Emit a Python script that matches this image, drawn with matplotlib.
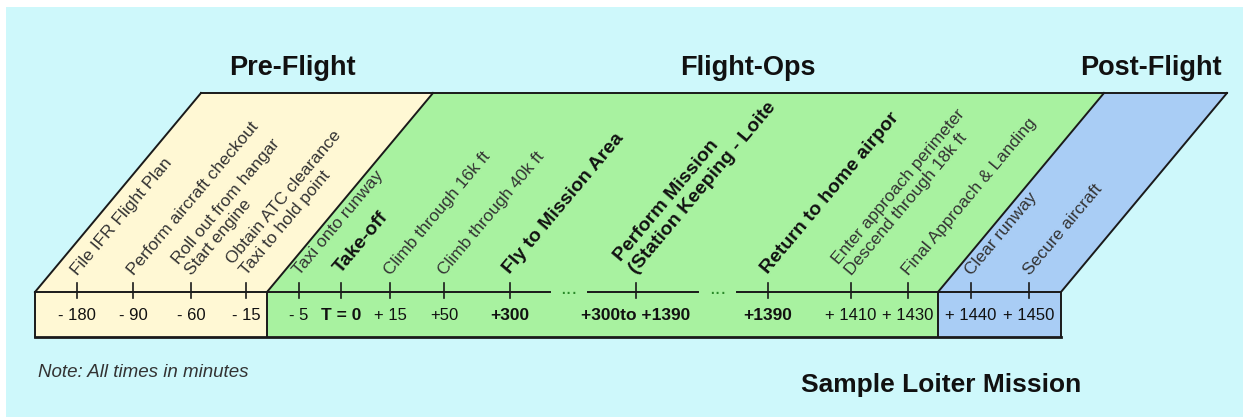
import matplotlib
matplotlib.use("Agg")
import matplotlib.pyplot as plt
from matplotlib.patches import Polygon, Rectangle

# ---------------- data ----------------
phases = ["Pre-Flight", "Flight-Ops", "Post-Flight"]
tick_labels = ["- 180", "- 90", "- 60", "- 15", "- 5", "T = 0", "+ 15", "+50",
               "+300", "+300to +1390", "+1390", "+ 1410", "+ 1430", "+ 1440", "+ 1450"]
tick_bold = [False, False, False, False, False, True, False, False,
             True, True, True, False, False, False, False]
event_labels = ["File IFR Flight Plan",
                "Perform aircraft checkout",
                "Roll out from hangar\nStart engine",
                "Obtain ATC clearance\nTaxi to hold point",
                "Taxi onto runway",
                "Take-off",
                "Climb through 16k ft",
                "Climb through 40k ft",
                "Fly to Mission Area",
                "Perform Mission\n(Station Keeping - Loite",
                "Return to home airpor",
                "Enter approach perimeter\nDescend through 18k ft",
                "Final Approach & Landing",
                "Clear runway",
                "Secure aircraft"]
title = "Sample Loiter Mission"
note = "Note: All times in minutes"

# ---------------- layout (pixel space) ----------------
W, H = 1248, 419
tick_x = [77, 133, 191, 246, 299, 341, 390, 444, 510, 636, 768, 851, 908, 971, 1029]
gap_spans = [(550, 588), (698, 737)]
box_left, box_right = 35, 1061
phase_bounds = [35, 267, 938, 1061]
y_line, y_bottom, y_top = 292, 337, 93
slant = 166
phase_colors = ["#FFF8D4", "#A8F2A0", "#A9CDF5"]
header_x = [292, 748, 1151]
panel_color = "#CEF8FB"
ink = "#1a1a1a"

fig = plt.figure(figsize=(W / 100, H / 100), dpi=100)
fig.patch.set_facecolor("white")
ax = fig.add_axes([0, 0, 1, 1])
ax.set_xlim(0, W)
ax.set_ylim(H, 0)
ax.axis("off")

ax.add_patch(Rectangle((6, 7), 1237, 410, facecolor=panel_color, edgecolor="none", zorder=0))

# phase shapes (box part + slanted parallelogram part)
for i in range(3):
    x0, x1 = phase_bounds[i], phase_bounds[i + 1]
    verts = [(x0, y_bottom), (x0, y_line), (x0 + slant, y_top),
             (x1 + slant, y_top), (x1, y_line), (x1, y_bottom)]
    ax.add_patch(Polygon(verts, closed=True, facecolor=phase_colors[i],
                         edgecolor="none", zorder=1))

lw = 1.4
for xb in phase_bounds:
    ax.plot([xb, xb + slant], [y_line, y_top], color=ink, lw=lw, zorder=3)
ax.plot([phase_bounds[0] + slant, phase_bounds[-1] + slant], [y_top, y_top], color=ink, lw=lw, zorder=3)
for xb in phase_bounds:
    ax.plot([xb, xb], [y_line, y_bottom], color=ink, lw=lw, zorder=3)
ax.plot([box_left, box_right], [y_bottom, y_bottom], color=ink, lw=2.0, zorder=3)
segs = [box_left] + [v for g in gap_spans for v in g] + [box_right]
for a, b in zip(segs[0::2], segs[1::2]):
    ax.plot([a, b], [y_line, y_line], color=ink, lw=lw, zorder=3)
for (a, b) in gap_spans:
    ax.text((a + b) / 2, y_line - 4, "...", ha="center", va="center",
            fontsize=15, color="#2a8a2a", fontfamily="Liberation Sans", zorder=4)

# ticks
for x in tick_x:
    ax.plot([x, x], [y_line - 9, y_line + 6], color=ink, lw=1.2, zorder=4)

# tick labels
for x, lab, b in zip(tick_x, tick_labels, tick_bold):
    ax.text(x, 320, lab, ha="center", va="baseline",
            fontsize=12.5 if b else 12,
            fontweight="bold" if b else "normal", color="#111111",
            fontfamily="Liberation Sans", zorder=4)

# event labels (rotated)
for i, (x, lab) in enumerate(zip(tick_x, event_labels)):
    b = tick_bold[i] if i != 5 else True
    if b:
        ax.text(x + 3, 277, lab, rotation=50, rotation_mode="anchor",
                ha="left", va="bottom", fontsize=14, fontweight="bold",
                color="#111111", fontfamily="Liberation Sans", linespacing=1.2, zorder=4)
    else:
        ax.text(x + 3, 278, lab, rotation=50, rotation_mode="anchor",
                ha="left", va="bottom", fontsize=12.5,
                color="#333333", fontfamily="Liberation Sans", linespacing=1.2, zorder=4)

# headers
for hx, name in zip(header_x, phases):
    ax.text(hx, 75, name, ha="center", va="baseline", fontsize=19.5,
            fontweight="bold", color="#111111", fontfamily="Liberation Sans")

ax.text(941, 392, title, ha="center", va="baseline", fontsize=19,
        fontweight="bold", color="#111111", fontfamily="Liberation Sans")
ax.text(38, 377, note, ha="left", va="baseline", fontsize=13.5,
        fontstyle="italic", color="#333333", fontfamily="Liberation Sans")

fig.savefig("out.png", dpi=100, facecolor=fig.get_facecolor())
